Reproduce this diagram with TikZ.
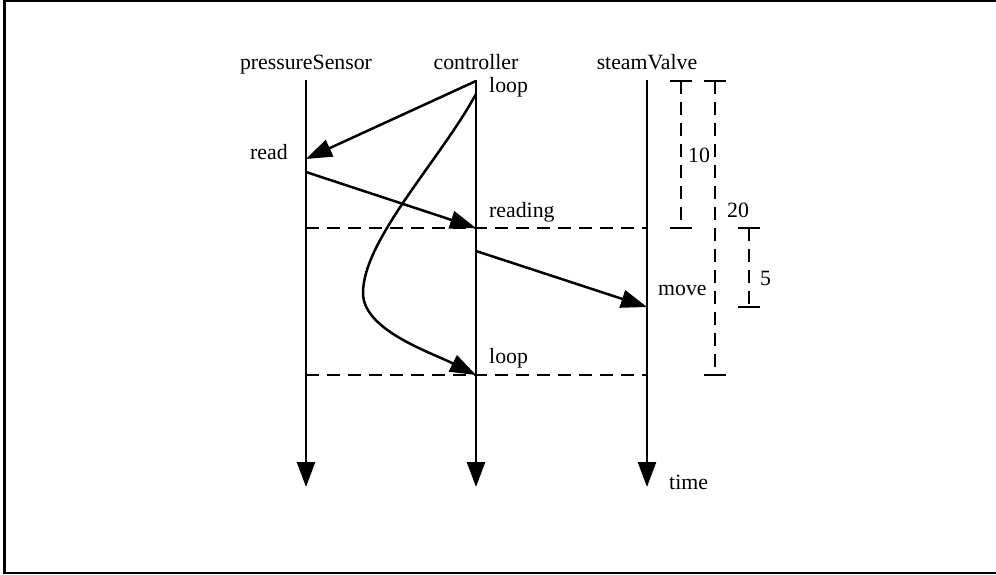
\documentclass[tikz,border=0pt]{standalone}
\usepackage{fontspec}
\setmainfont{Liberation Serif}
\usetikzlibrary{arrows.meta,positioning}
\tikzset{
  lane/.style={line width=2.5pt, -{Triangle[length=25pt,width=18pt]}},
  msg/.style={line width=2.5pt, -{Triangle[length=26pt,width=18pt]}},
  sync/.style={line width=2.5pt, dash pattern=on 13pt off 8pt},
  spanbar/.style={line width=2.5pt, dash pattern=on 13pt off 8pt},
  tickmark/.style={line width=2.5pt},
  head/.style={inner sep=0pt, anchor=base, font=\fontsize{21.8}{26}\selectfont},
  lbl/.style={inner sep=0pt, anchor=base west, font=\fontsize{21.8}{26}\selectfont}
}
\begin{document}
\begin{tikzpicture}[x=1pt,y=-1pt]
\useasboundingbox (0,0) rectangle (996,575);
\draw[line width=2.8pt] (1000,1) -- (4.5,1) -- (4.5,573) -- (1000,573);
% lifelines
\node[head] (ps) at (306,70) {pressureSensor};
\node[head] (ctl) at (476,70) {controller};
\node[head] (sv) at (647,70) {steamValve};
\coordinate (pstop) at (306,80);\coordinate (psend) at (306,487);
\coordinate (ctltop) at (476,80);\coordinate (ctlend) at (476,487);
\coordinate (svtop) at (647,80);\coordinate (svend) at (647,487);
\draw[lane] (pstop)--(psend);\draw[lane] (ctltop)--(ctlend);\draw[lane] (svtop)--(svend);
% events
\coordinate (loopa) at (476,81);
\coordinate (loopc) at (476,94);
\coordinate (rd) at (306,159);
\coordinate (rda) at (306,172);
\coordinate (rdg) at (476,228);
\coordinate (rdga) at (476,251);
\coordinate (mv) at (647,307);
\coordinate (loopb) at (476,375);
\coordinate (bend) at (363,293);
\node[lbl] (tloopa) at (489,93) {loop};
\node[lbl] (trd) at (250,160) {read};
\node[lbl] (trdg) at (489,217) {reading};
\node[lbl] (tmv) at (658,295) {move};
\node[lbl] (tloopb) at (489,363) {loop};
\node[lbl] (ttime) at (669,489) {time};
% messages
\draw[msg] (loopa)--(rd);
\draw[msg] (rda)--(rdg);
\draw[msg] (rdga)--(mv);
\draw[msg] (loopc) .. controls (440,160) and (363,240) .. (bend)
  .. controls (363,330) and (430,352) .. (loopb);
\draw[sync] (306,228)--(647,228);
\draw[sync] (306,375)--(647,375);
% durations
\coordinate (da) at (681,81);\coordinate (db) at (681,228);
\coordinate (ea) at (715,81);\coordinate (eb) at (715,375);
\coordinate (fa) at (749,228);\coordinate (fb) at (749,307);
\draw[spanbar] (da)--(db);\draw[spanbar] (ea)--(eb);\draw[spanbar] (fa)--(fb);
\draw[tickmark] ([xshift=-11pt]da)--([xshift=11pt]da);\draw[tickmark] ([xshift=-11pt]db)--([xshift=11pt]db);
\draw[tickmark] ([xshift=-11pt]ea)--([xshift=11pt]ea);\draw[tickmark] ([xshift=-11pt]eb)--([xshift=11pt]eb);
\draw[tickmark] ([xshift=-11pt]fa)--([xshift=11pt]fa);\draw[tickmark] ([xshift=-11pt]fb)--([xshift=11pt]fb);
\node[lbl] (tten) at (688,163) {10};
\node[lbl] (ttwenty) at (727,217) {20};
\node[lbl] (tfive) at (760,285) {5};
\end{tikzpicture}
\end{document}
